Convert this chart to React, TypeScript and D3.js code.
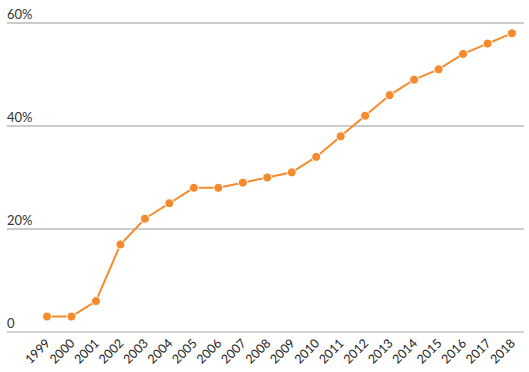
import React from "react";
import * as d3 from "d3";

const years = ["1999","2000","2001","2002","2003","2004","2005","2006","2007","2008","2009","2010","2011","2012","2013","2014","2015","2016","2017","2018"];
const values = [3,3,6,17,22,25,28,28,29,30,31,34,38,42,46,49,51,54,56,58];
const yTicks = [0,20,40,60];
const yTickLabels = ["0","20%","40%","60%"];

const W = 529, H = 372;

export default function App() {
  const x = d3.scalePoint<string>().domain(years).range([47, 512]);
  const y = d3.scaleLinear().domain([0, 60]).range([332, 23]);
  const line = d3.line<number>().x((_, i) => x(years[i])!).y(d => y(d));
  const color = "#f58b2c";
  return (
    <svg width={W} height={H} style={{ position: "absolute", left: 0, top: 0, fontFamily: "Lato, sans-serif" }}>
      {yTicks.map((t, i) => (
        <g key={t}>
          <line x1={7} x2={524} y1={y(t)} y2={y(t)} stroke={i === 0 ? "#aaa" : "#999"} strokeWidth={1.2} />
          <text x={7} y={y(t) - 4} fontSize={13} fill="#333">{yTickLabels[i]}</text>
        </g>
      ))}
      <path d={line(values)!} fill="none" stroke={color} strokeWidth={2} />
      {values.map((v, i) => (
        <circle key={i} cx={x(years[i])} cy={y(v)} r={4.5} fill={color} stroke="#fff" strokeWidth={1} />
      ))}
      {years.map(yr => (
        <text key={yr} transform={`translate(${x(yr)! + 4},${344}) rotate(-45)`} textAnchor="end" fontSize={12.5} fill="#222">{yr}</text>
      ))}
    </svg>
  );
}
